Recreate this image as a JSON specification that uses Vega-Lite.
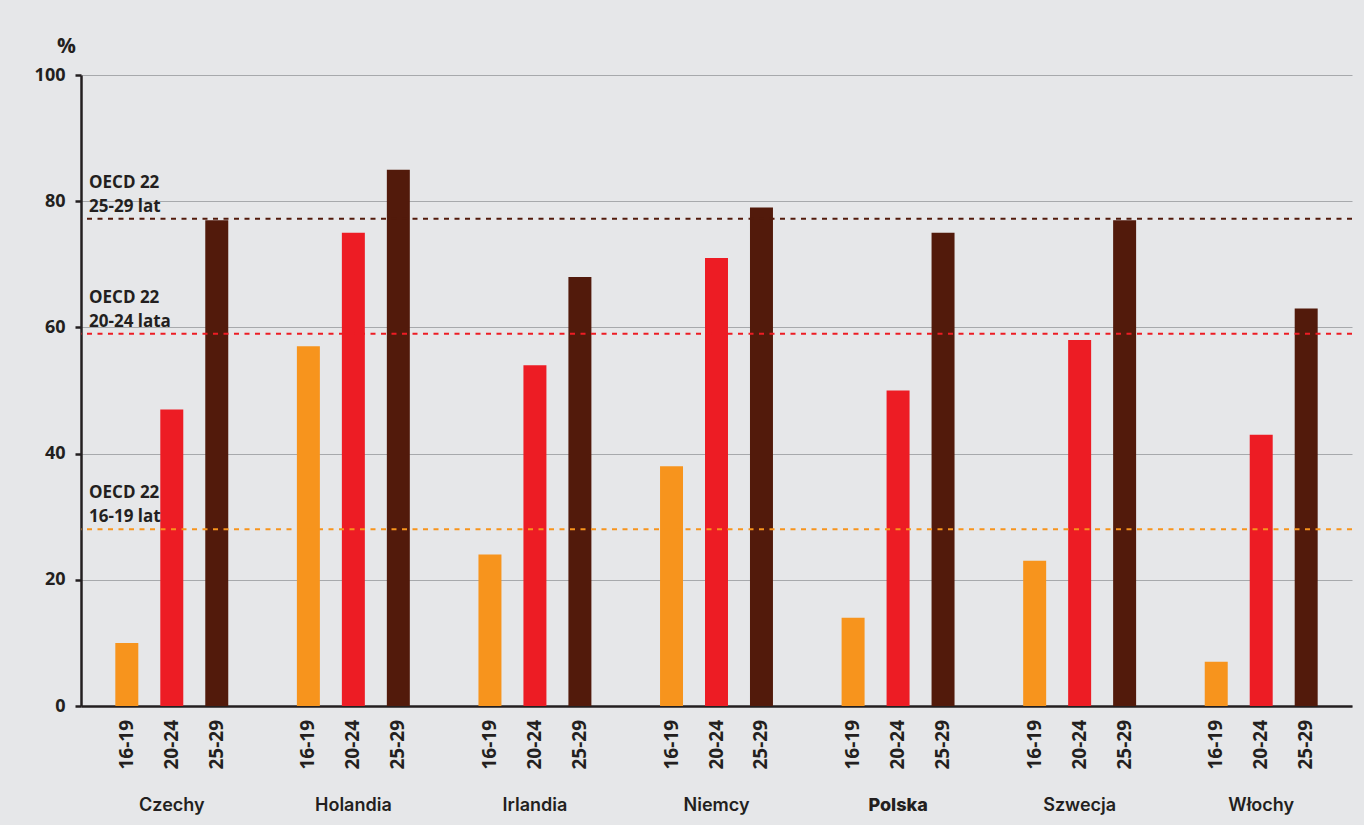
{
  "$schema": "https://vega.github.io/schema/vega-lite/v6.json",
  "width": 1271,
  "height": 631,
  "autosize": {"type": "none"},
  "padding": {"left": 81, "top": 75, "right": 12, "bottom": 119},
  "background": "#e6e7e9",
  "config": {
    "view": {"stroke": null},
    "font": "Open Sans",
    "text": {"font": "Open Sans", "color": "#231f20"}
  },
  "datasets": {
    "bars": [
      {"country": "Czechy", "age": "16-19", "value": 10},
      {"country": "Czechy", "age": "20-24", "value": 47},
      {"country": "Czechy", "age": "25-29", "value": 77},
      {"country": "Holandia", "age": "16-19", "value": 57},
      {"country": "Holandia", "age": "20-24", "value": 75},
      {"country": "Holandia", "age": "25-29", "value": 85},
      {"country": "Irlandia", "age": "16-19", "value": 24},
      {"country": "Irlandia", "age": "20-24", "value": 54},
      {"country": "Irlandia", "age": "25-29", "value": 68},
      {"country": "Niemcy", "age": "16-19", "value": 38},
      {"country": "Niemcy", "age": "20-24", "value": 71},
      {"country": "Niemcy", "age": "25-29", "value": 79},
      {"country": "Polska", "age": "16-19", "value": 14},
      {"country": "Polska", "age": "20-24", "value": 50},
      {"country": "Polska", "age": "25-29", "value": 75},
      {"country": "Szwecja", "age": "16-19", "value": 23},
      {"country": "Szwecja", "age": "20-24", "value": 58},
      {"country": "Szwecja", "age": "25-29", "value": 77},
      {"country": "Włochy", "age": "16-19", "value": 7},
      {"country": "Włochy", "age": "20-24", "value": 43},
      {"country": "Włochy", "age": "25-29", "value": 63}
    ],
    "oecd": [
      {"age": "25-29", "value": 77.2, "label": ["OECD 22", "25-29 lat"]},
      {"age": "20-24", "value": 59, "label": ["OECD 22", "20-24 lata"]},
      {"age": "16-19", "value": 28, "label": ["OECD 22", "16-19 lat"]}
    ]
  },
  "layer": [
    {
      "data": {"name": "bars"},
      "mark": {"type": "bar"},
      "encoding": {
        "x": {
          "field": "country",
          "type": "nominal",
          "sort": null,
          "scale": {"paddingInner": 0, "paddingOuter": 0},
          "axis": {
            "title": null,
            "labelAngle": 0,
            "ticks": false,
            "domainColor": "#231f20",
            "domainWidth": 2.5,
            "labelPadding": 99,
            "labelBaseline": "middle",
            "labelFont": "Inter",
            "labelFontSize": 18,
            "labelFontWeight": {"condition": {"test": "datum.value == 'Polska'", "value": 800}, "value": 600},
            "labelColor": "#231f20"
          }
        },
        "xOffset": {
          "field": "age",
          "type": "nominal",
          "sort": ["16-19", "20-24", "25-29"],
          "scale": {"paddingInner": 0.489, "paddingOuter": 0.763}
        },
        "y": {
          "field": "value",
          "type": "quantitative",
          "scale": {"domain": [0, 100], "nice": false},
          "axis": {
            "values": [0, 20, 40, 60, 80, 100],
            "title": "%",
            "titleAngle": 0,
            "titleX": -15,
            "titleY": -29,
            "titleAlign": "center",
            "titleBaseline": "middle",
            "titleFont": "Open Sans",
            "titleFontSize": 21,
            "titleFontWeight": 700,
            "titleColor": "#231f20",
            "domainColor": "#231f20",
            "domainWidth": 2.5,
            "tickColor": "#231f20",
            "tickWidth": 2.5,
            "tickSize": 6,
            "labelPadding": 10,
            "labelFont": "Open Sans",
            "labelFontSize": 18,
            "labelFontWeight": 700,
            "labelColor": "#231f20",
            "gridColor": "#a7a9ac",
            "gridWidth": 1
          }
        },
        "color": {
          "field": "age",
          "type": "nominal",
          "scale": {"domain": ["16-19", "20-24", "25-29"], "range": ["#f7941d", "#ed1c24", "#521a0b"]},
          "legend": null
        }
      }
    },
    {
      "data": {"name": "bars"},
      "mark": {"type": "text", "angle": 270, "align": "right", "baseline": "middle", "dx": -14, "fontSize": 19, "fontWeight": 700, "font": "Open Sans", "color": "#231f20"},
      "encoding": {
        "x": {"field": "country", "type": "nominal", "sort": null},
        "xOffset": {"field": "age", "type": "nominal", "sort": ["16-19", "20-24", "25-29"]},
        "y": {"datum": 0, "type": "quantitative"},
        "text": {"field": "age"}
      }
    },
    {
      "data": {"name": "oecd"},
      "mark": {"type": "rule", "strokeDash": [5, 5.5], "strokeWidth": 2},
      "encoding": {
        "y": {"field": "value", "type": "quantitative"},
        "color": {"field": "age", "type": "nominal", "legend": null}
      }
    },
    {
      "data": {"name": "oecd"},
      "mark": {"type": "text", "align": "left", "baseline": "bottom", "dx": 8, "dy": -27, "lineHeight": 24, "fontSize": 17, "fontWeight": 700, "font": "Open Sans", "color": "#231f20"},
      "encoding": {
        "x": {"datum": "Czechy", "type": "nominal", "bandPosition": 0},
        "y": {"field": "value", "type": "quantitative"},
        "text": {"field": "label"}
      }
    }
  ]
}
